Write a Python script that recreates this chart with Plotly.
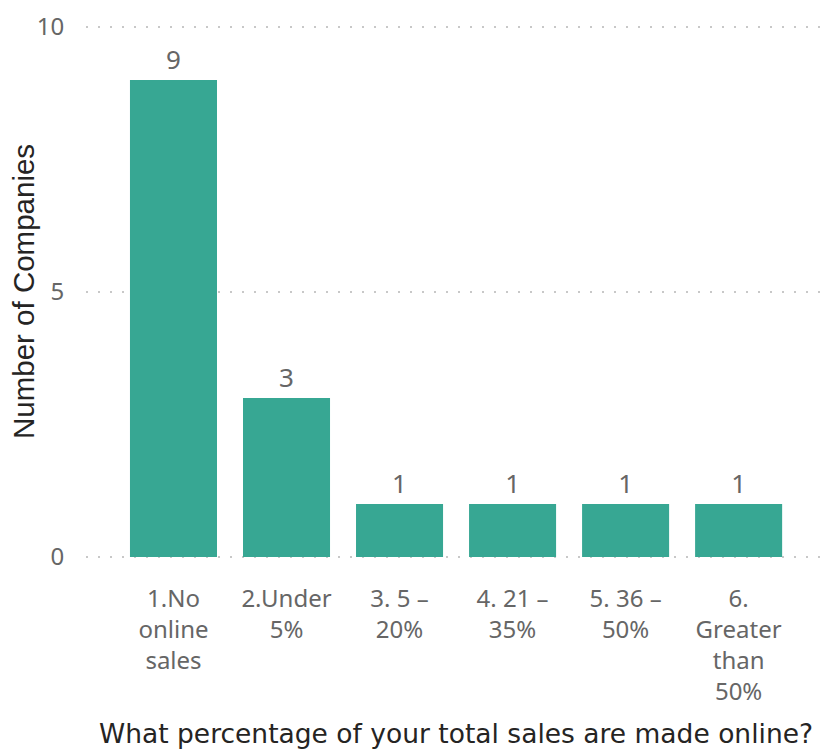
import plotly.graph_objects as go

categories = ["1.No<br>online<br>sales", "2.Under<br>5%", "3. 5 –<br>20%", "4. 21 –<br>35%", "5. 36 –<br>50%", "6.<br>Greater<br>than<br>50%"]
values = [9, 3, 1, 1, 1, 1]
y_ticks = [0, 5, 10]
x_title = "What percentage of your total sales are made online?"
y_title = "Number of Companies"

fig = go.Figure(go.Bar(
    x=list(range(len(categories))), y=values,
    marker=dict(color="#37A793", line=dict(width=0)),
    text=[str(v) for v in values], textposition="outside",
    textfont=dict(family="Noto Sans", size=26, color="#666666"),
    cliponaxis=False, width=0.77,
))

fig.update_layout(
    width=820, height=743,
    margin=dict(l=78, r=8, t=18, b=193),
    plot_bgcolor="white", paper_bgcolor="white",
    showlegend=False,
    xaxis=dict(
        tickmode="array", tickvals=list(range(len(categories))), ticktext=categories,
        range=[-0.774, 5.72], showgrid=False, zeroline=False, showline=False,
        tickfont=dict(family="Noto Sans", size=24, color="#666666"),
        ticks="outside", ticklen=19, tickcolor="rgba(0,0,0,0)",
        automargin=False, ticklabeloverflow="allow",
    ),
    yaxis=dict(
        range=[-0.02, 10.02], tickvals=y_ticks, showgrid=True,
        gridcolor="#C8C8C8", gridwidth=2, griddash="2px,10px",
        zeroline=False, showline=False,
        tickfont=dict(family="Noto Sans", size=24, color="#666666"),
        ticks="outside", ticklen=16, tickcolor="rgba(0,0,0,0)",
        automargin=False, ticklabeloverflow="allow",
    ),
    annotations=[
        dict(text=x_title, xref="paper", yref="paper", x=0.504, y=-0.33,
             xanchor="center", yanchor="middle", showarrow=False,
             font=dict(family="DejaVu Sans", size=26.5, color="#252423")),
        dict(text=y_title, xref="paper", yref="paper", x=-0.0858, y=0.5,
             xanchor="center", yanchor="middle", showarrow=False, textangle=-90,
             font=dict(family="Liberation Sans", size=29.5, color="#252423")),
    ],
)

fig.write_html("out.html")
